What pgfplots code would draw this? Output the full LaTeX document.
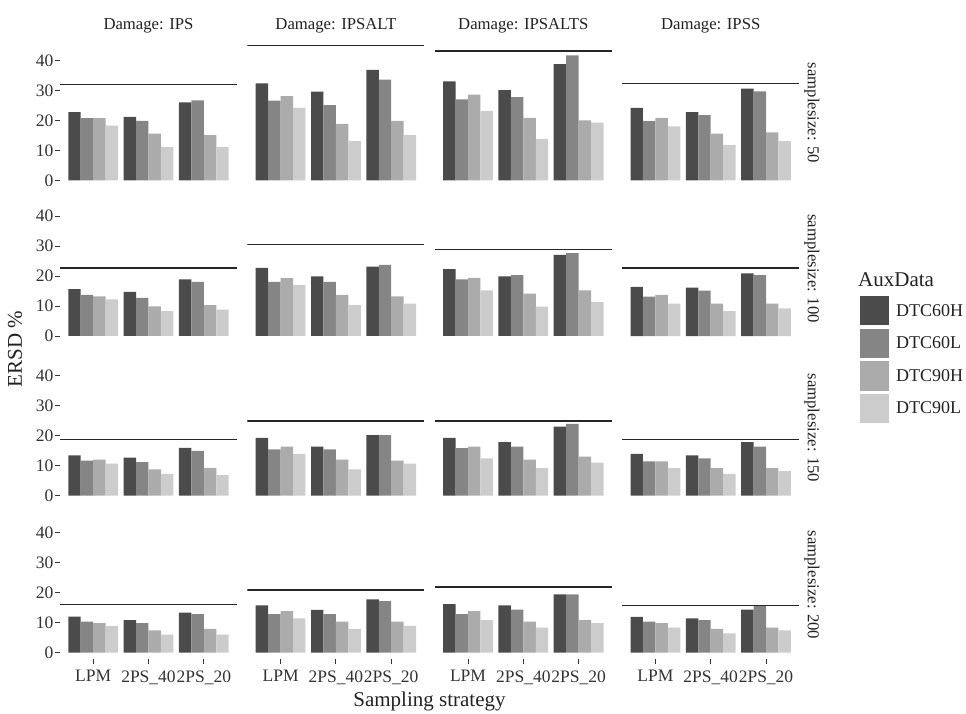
\documentclass[border=0pt]{standalone}
\usepackage{pgfplots}
\pgfplotsset{compat=1.18}
\usepackage{pgfplotstable}
\usepackage{fontspec}
\setmainfont{Liberation Serif}
\definecolor{cA}{HTML}{4B4B4B}
\definecolor{cB}{HTML}{858585}
\definecolor{cC}{HTML}{ABABAB}
\definecolor{cD}{HTML}{CCCCCC}
\definecolor{hlc}{HTML}{262626}
\definecolor{tickc}{HTML}{333333}
\definecolor{txt}{HTML}{222222}

% row A = samplesize 50, B = 100, C = 150, D = 200
% col a = IPS, b = IPSALT, c = IPSALTS, d = IPSS
\pgfplotstableread{
x a b c d
1 22.8 20.8 20.8 18.3
2 21.2 19.9 15.6 11.2
3 26.0 26.7 15.1 11.2
}\tAa
\pgfplotstableread{
x a b c d
1 32.4 26.6 28.1 24.2
2 29.6 25.1 18.9 13.1
3 36.9 33.6 19.9 15.1
}\tAb
\pgfplotstableread{
x a b c d
1 33.0 27.0 28.6 23.2
2 30.1 27.8 20.9 13.8
3 38.8 41.7 20.0 19.3
}\tAc
\pgfplotstableread{
x a b c d
1 24.2 19.8 20.9 18.0
2 22.8 21.8 15.6 11.8
3 30.6 29.7 16.0 13.1
}\tAd
\pgfplotstableread{
x a b c d
1 15.6 13.7 13.2 12.2
2 14.7 12.7 9.9 8.3
3 18.9 18.0 10.3 8.8
}\tBa
\pgfplotstableread{
x a b c d
1 22.7 18.0 19.3 17.0
2 19.9 18.0 13.7 10.3
3 23.1 23.7 13.2 10.8
}\tBb
\pgfplotstableread{
x a b c d
1 22.3 18.9 19.4 15.2
2 19.9 20.3 14.1 9.8
3 27.0 27.6 15.2 11.3
}\tBc
\pgfplotstableread{
x a b c d
1 16.4 13.1 13.7 10.8
2 16.1 15.1 10.8 8.3
3 20.9 20.3 10.8 9.2
}\tBd
\pgfplotstableread{
x a b c d
1 13.4 11.6 12.0 10.6
2 12.6 11.1 8.7 7.2
3 15.9 14.9 9.2 6.8
}\tCa
\pgfplotstableread{
x a b c d
1 19.2 15.4 16.3 13.9
2 16.3 15.4 12.0 8.7
3 20.1 20.1 11.6 10.6
}\tCb
\pgfplotstableread{
x a b c d
1 19.2 15.8 16.3 12.4
2 17.8 16.3 12.0 9.1
3 23.0 23.9 13.0 11.0
}\tCc
\pgfplotstableread{
x a b c d
1 13.9 11.4 11.4 9.1
2 13.4 12.4 9.1 7.2
3 17.8 16.3 9.1 8.1
}\tCd
\pgfplotstableread{
x a b c d
1 12.0 10.3 9.8 8.8
2 10.8 9.8 7.4 6.0
3 13.3 12.8 7.9 6.0
}\tDa
\pgfplotstableread{
x a b c d
1 15.7 12.8 13.8 11.4
2 14.2 12.8 10.3 7.9
3 17.7 17.1 10.3 8.9
}\tDb
\pgfplotstableread{
x a b c d
1 16.1 12.8 13.8 10.8
2 15.7 14.3 10.3 8.3
3 19.4 19.4 10.8 9.8
}\tDc
\pgfplotstableread{
x a b c d
1 11.9 10.3 9.8 8.3
2 11.4 10.8 7.9 6.4
3 14.3 15.7 8.3 7.4
}\tDd

\pgfplotsset{
  panel/.style={
    scale only axis, width=177pt, height=148.5pt, anchor=south west,
    xmin=0.4, xmax=3.6, ymin=-2.25, ymax=47.25,
    axis line style={draw=none},
    xtick=\empty, ytick=\empty,
    tick align=outside, major tick length=5pt,
    every tick/.style={color=tickc, line width=0.9pt},
    xtick pos=bottom, ytick pos=left,
    /pgf/number format/assume math mode=true,
    ticklabel style={font=\fontsize{17.5}{18}\selectfont, text=tickc},
    yticklabel style={inner sep=1.5pt},
    xticklabel style={inner sep=2pt, yshift=-4pt},
  },
  yleft/.style={ytick={0,10,20,30,40}},
  xbot/.style={xtick={1,2,3}, xticklabels={LPM,2PS\_40,2PS\_20}},
  bar/.style={ybar, bar width=0.225, bar shift=0pt, draw=none, forget plot},
  hl/.style={sharp plot, no marks, color=hlc, line width=1.4pt, forget plot},
  legsq/.style={
    legend image code/.code={\fill[##1] (0pt,-14.6pt) rectangle (29pt,14.6pt);},
    legend style={draw=none, fill=none, inner sep=0pt, row sep=3.4pt, column sep=5pt,
      font=\fontsize{18}{18}\selectfont, text=txt,
      at={(axis description cs:1.3435,0.3148)}, anchor=north west},
    legend cell align=left,
  },
}

\newcommand{\panel}[6]{%
\begin{axis}[panel, at={(#1pt,#2pt)}, #5]
\addplot[bar, fill=cA] table[x expr=\thisrow{x}-0.3375, y=a] {#3};
\addplot[bar, fill=cB] table[x expr=\thisrow{x}-0.1125, y=b] {#3};
\addplot[bar, fill=cC] table[x expr=\thisrow{x}+0.1125, y=c] {#3};
\addplot[bar, fill=cD] table[x expr=\thisrow{x}+0.3375, y=d] {#3};
\addplot[hl] coordinates {(0.4,#4) (3.6,#4)};
#6
\end{axis}}

\begin{document}
\begin{tikzpicture}
\path[use as bounding box] (0,0) rectangle (966pt,713pt);
% row A (samplesize 50)
\panel{60}{525.75}{\tAa}{31.9}{yleft}{}
\panel{247.4}{525.75}{\tAb}{45.0}{}{}
\panel{434.8}{525.75}{\tAc}{43.1}{}{}
\panel{622.2}{525.75}{\tAd}{32.4}{}{}
% row B (samplesize 100)
\panel{60}{370.25}{\tBa}{22.6}{yleft}{}
\panel{247.4}{370.25}{\tBb}{30.4}{}{}
\panel{434.8}{370.25}{\tBc}{28.9}{}{}
\panel{622.2}{370.25}{\tBd}{22.7}{legsq}{%
\addlegendimage{fill=cA, draw=none}\addlegendentry{DTC60H}
\addlegendimage{fill=cB, draw=none}\addlegendentry{DTC60L}
\addlegendimage{fill=cC, draw=none}\addlegendentry{DTC90H}
\addlegendimage{fill=cD, draw=none}\addlegendentry{DTC90L}}
% row C (samplesize 150)
\panel{60}{210.75}{\tCa}{18.7}{yleft}{}
\panel{247.4}{210.75}{\tCb}{24.9}{}{}
\panel{434.8}{210.75}{\tCc}{24.9}{}{}
\panel{622.2}{210.75}{\tCd}{18.7}{}{}
% row D (samplesize 200)
\panel{60}{53.75}{\tDa}{16.1}{yleft,xbot}{}
\panel{247.4}{53.75}{\tDb}{20.9}{xbot}{}
\panel{434.8}{53.75}{\tDc}{21.8}{xbot}{}
\panel{622.2}{53.75}{\tDd}{15.7}{xbot}{}

% strip labels
\begin{scope}[every node/.style={font=\fontsize{16.7}{17}\selectfont, text=txt, inner sep=0pt}]
\node[anchor=base] at (148.5pt,683.5pt) {Damage: IPS};
\node[anchor=base] at (335.9pt,683.5pt) {Damage: IPSALT};
\node[anchor=base] at (523.3pt,683.5pt) {Damage: IPSALTS};
\node[anchor=base] at (710.7pt,683.5pt) {Damage: IPSS};
\node[rotate=-90] at (812pt,600pt) {samplesize: 50};
\node[rotate=-90] at (812pt,444.5pt) {samplesize: 100};
\node[rotate=-90] at (812pt,285pt) {samplesize: 150};
\node[rotate=-90] at (812pt,128pt) {samplesize: 200};
\end{scope}
% axis titles
\node[font=\fontsize{21}{21}\selectfont, text=txt, inner sep=0pt, anchor=base] at (429.5pt,7pt) {Sampling strategy};
\node[font=\fontsize{21}{21}\selectfont, text=txt, inner sep=0pt, rotate=90] at (15pt,364pt) {ERSD \%};
\node[font=\fontsize{21}{21}\selectfont, text=txt, inner sep=0pt, anchor=base west] at (858pt,426pt) {AuxData};
\end{tikzpicture}
\end{document}
